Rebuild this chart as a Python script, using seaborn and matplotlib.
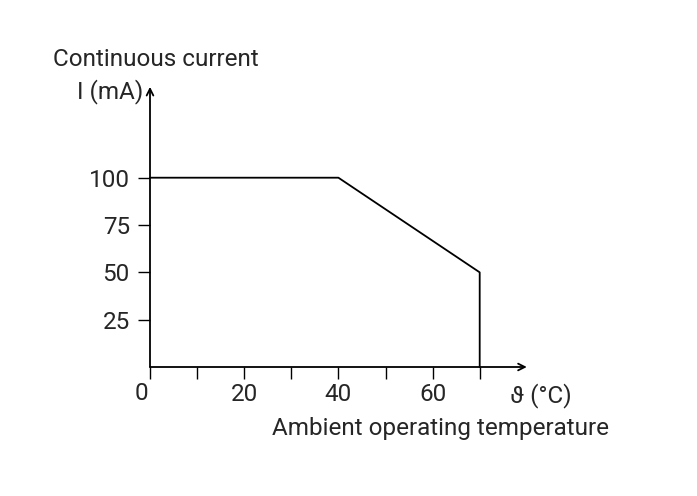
import numpy as np
import pandas as pd
import matplotlib
matplotlib.use("Agg")
import matplotlib.pyplot as plt
import seaborn as sns

# Derating curve: continuous current vs ambient temperature
temperature = [0, 40, 70, 70]
current = [100, 100, 50, 0]

x_major = [0, 20, 40, 60]
x_minor = [10, 30, 50, 70]
y_ticks = [25, 50, 75, 100]

sns.set_style("white")
plt.rcParams["font.family"] = ["Roboto", "DejaVu Sans"]

W, H = 697, 496
FS = 17.5
fig = plt.figure(figsize=(W / 100, H / 100), dpi=100)

# axis origin at (150, 367) px; 10 degC = 47.1 px, 25 mA = 47.3 px
x0, y0 = 150, 367
xmax, ymax = 80, 148
px_x, px_y = 4.71, 1.893
ax = fig.add_axes([x0 / W, (H - y0) / H, xmax * px_x / W, ymax * px_y / H])

df = pd.DataFrame({"temp": temperature, "current": current})
sns.lineplot(data=df, x="temp", y="current", sort=False, estimator=None,
             color="black", linewidth=1.3, ax=ax, clip_on=False)

ax.set_xlim(0, xmax)
ax.set_ylim(0, ymax)
for s in ax.spines.values():
    s.set_visible(False)

# axes with arrow heads
for end in [(1, 0), (0, 1)]:
    ax.annotate("", xy=end, xytext=(0, 0), xycoords="axes fraction",
                arrowprops=dict(arrowstyle="->", color="black", lw=1.3,
                                shrinkA=0, shrinkB=0, mutation_scale=12))

ax.set_xticks(x_major)
ax.set_xticks(x_minor, minor=True)
# the "0" is drawn separately, shifted left of the axis
ax.set_xticklabels([""] + [str(v) for v in x_major[1:]])
ax.set_yticks(y_ticks)
ax.set_yticklabels([str(v) for v in y_ticks])
ax.tick_params(axis="x", which="both", direction="out", length=8.5,
               width=1.0, color="black", labelsize=FS, pad=3)
ax.tick_params(axis="y", which="both", direction="out", length=8.5,
               width=1.0, color="black", labelsize=FS, pad=6)
ax.xaxis.set_ticks_position("bottom")
ax.yaxis.set_ticks_position("left")
ax.annotate(str(x_major[0]), xy=(x_major[0], 0), xytext=(-9, -26),
            textcoords="offset pixels", ha="center", va="center",
            fontsize=FS)

ax.set_xlabel("")
ax.set_ylabel("")

# labels around the axes
fig.text(53 / W, 1 - 60 / H, "Continuous current", fontsize=FS,
         ha="left", va="center")
fig.text(143 / W, 1 - 92 / H, "I (mA)", fontsize=FS,
         ha="right", va="center")
fig.text(510 / W, 1 - 396 / H, "ϑ (°C)", fontsize=FS,
         ha="left", va="center")
fig.text(272 / W, 1 - 428 / H, "Ambient operating temperature",
         fontsize=FS, ha="left", va="center")

fig.savefig("out.png", dpi=100)
